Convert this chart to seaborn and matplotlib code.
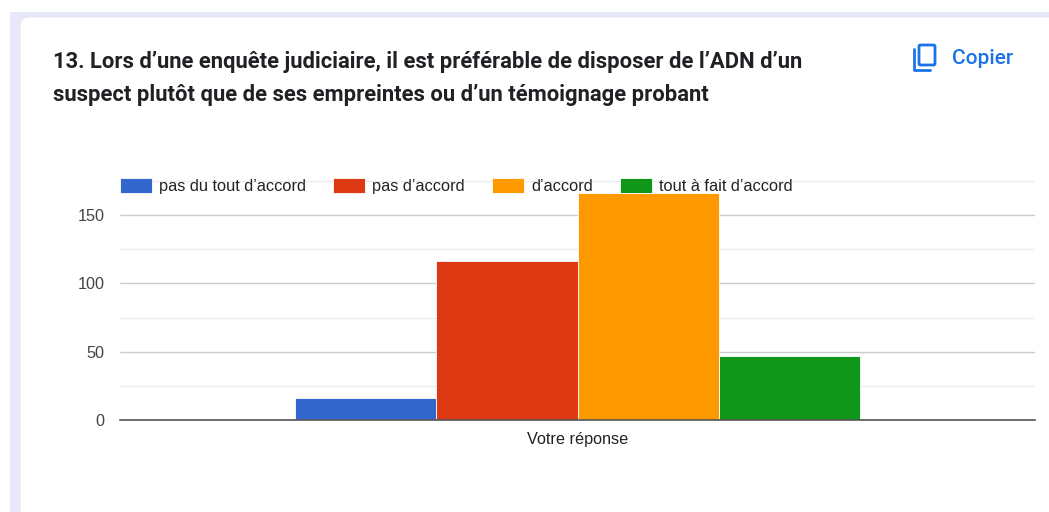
import matplotlib
matplotlib.use("Agg")
import matplotlib.pyplot as plt
from matplotlib.patches import FancyBboxPatch, Rectangle
import pandas as pd
import seaborn as sns

categories = ["Votre réponse"]
responses = ["pas du tout d’accord", "pas d’accord", "d’accord", "tout à fait d’accord"]
counts = [16, 116, 166, 47]
colors = ["#3366cc", "#dc3912", "#ff9900", "#109618"]
title_lines = ["13. Lors d’une enquête judiciaire, il est préférable de disposer de l’ADN d’un",
               "suspect plutôt que de ses empreintes ou d’un témoignage probant"]
major_ticks = [0, 50, 100, 150]
minor_ticks = [25, 75, 125, 175]

W, H = 1049, 512
sns.set_theme(style="white")
plt.rcParams['font.family'] = ['Liberation Sans', 'DejaVu Sans']
fig = plt.figure(figsize=(W / 100, H / 100), dpi=100, facecolor="white")

def fx(x): return x / W
def fy(y): return 1 - y / H

# page backdrop and card
fig.add_artist(Rectangle((fx(10), 0), 1 - fx(10), fy(12), transform=fig.transFigure,
                         facecolor="#e8e8fb", edgecolor="none", zorder=-3))
fig.add_artist(FancyBboxPatch((20, -40), W + 60, H + 40 - 17, boxstyle="round,pad=0,rounding_size=9",
                              transform=None, facecolor="white", edgecolor="#e4e4ee", lw=0.6, zorder=-2))

ax = fig.add_axes([fx(120), fy(420), (1035 - 120) / W, 240.5 / H])
ax.patch.set_alpha(0)
df = pd.DataFrame({"cat": categories * len(responses), "réponse": responses, "n": counts})
sns.barplot(data=df, x="cat", y="n", hue="réponse", hue_order=responses, palette=colors,
            width=0.618, gap=0, saturation=1, edgecolor="white", linewidth=0.6, ax=ax, zorder=3)
ax.set_xlim(-0.5, 0.5)
ax.set_ylim(0, 176)
ax.set_xlabel("")
ax.set_ylabel("")
ax.set_yticks(major_ticks)
ax.set_yticks(minor_ticks, minor=True)
ax.grid(axis="y", which="major", color="#cccccc", lw=1, zorder=0)
ax.grid(axis="y", which="minor", color="#ebebeb", lw=1, zorder=0)
ax.grid(axis="x", visible=False)
ax.tick_params(axis="y", which="both", length=0, pad=11, labelsize=11.7, labelcolor="#444444")
ax.tick_params(axis="x", length=0, pad=8.7, labelsize=11.7, labelcolor="#222222")
for s in ["top", "left", "right"]:
    ax.spines[s].set_visible(False)
ax.spines["bottom"].set_color("#555555")
ax.spines["bottom"].set_linewidth(1.2)
ax.spines["bottom"].set_zorder(5)

sns.move_legend(ax, "center left", bbox_to_anchor=(fx(120), fy(186)), bbox_transform=fig.transFigure,
                ncol=4, frameon=False, title=None, fontsize=11.8, borderpad=0, borderaxespad=0,
                handlelength=1.95, handleheight=1.0, handletextpad=0.43, columnspacing=1.66,
                labelcolor="#222222")

for line, y in zip(title_lines, (62, 94.5)):
    fig.text(fx(53), fy(y), line, family="Roboto", weight="bold", fontsize=15.8,
             color="#202124", va="center", ha="left")

# copy link
blue = "#1a73e8"
fig.add_artist(FancyBboxPatch((919, H - 65), 16, 20, boxstyle="round,pad=0,rounding_size=1.5", transform=None,
                              facecolor="none", edgecolor=blue, lw=2))
fig.add_artist(plt.Line2D([fx(914), fx(914), fx(930)], [fy(49), fy(70), fy(70)],
                          color=blue, lw=2, transform=fig.transFigure))
fig.text(fx(952), fy(58), "Copier", family="Roboto", weight="medium", fontsize=15, color=blue,
         va="center", ha="left")

fig.savefig("out.png", dpi=100)
